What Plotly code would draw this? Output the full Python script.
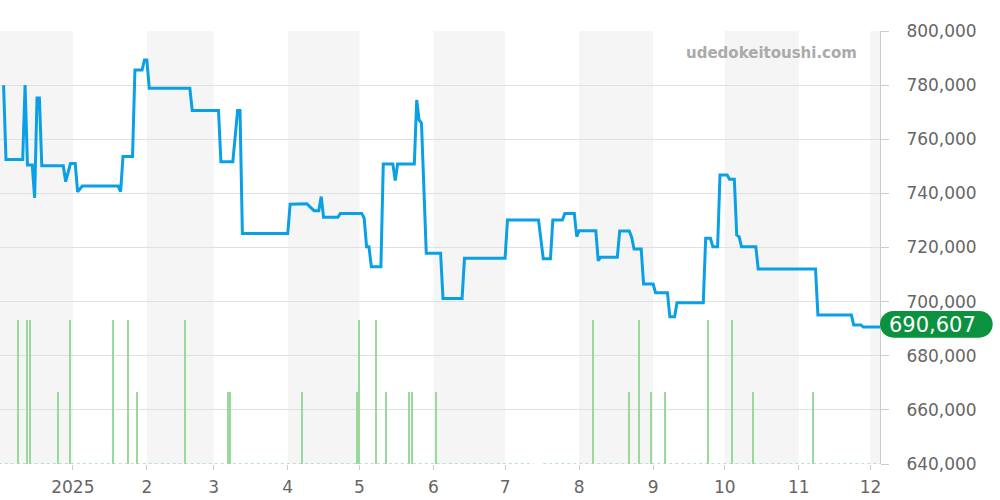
import plotly.graph_objects as go
import pandas as pd

# ---- price line (change points) ----
line_dates = [
    "2024-12-03", "2024-12-04", "2024-12-11", "2024-12-12", "2024-12-13", "2024-12-15",
    "2024-12-16", "2024-12-17", "2024-12-18", "2024-12-19", "2024-12-28", "2024-12-29",
    "2024-12-31", "2025-01-02", "2025-01-03", "2025-01-05", "2025-01-20", "2025-01-21",
    "2025-01-22", "2025-01-26", "2025-01-27", "2025-01-30", "2025-01-31", "2025-02-01",
    "2025-02-02", "2025-02-19", "2025-02-20", "2025-03-03", "2025-03-04", "2025-03-09",
    "2025-03-11", "2025-03-12", "2025-03-13", "2025-04-01", "2025-04-02", "2025-04-09",
    "2025-04-10", "2025-04-12", "2025-04-14", "2025-04-15", "2025-04-16", "2025-04-22",
    "2025-04-23", "2025-05-02", "2025-05-03", "2025-05-04", "2025-05-05", "2025-05-06",
    "2025-05-10", "2025-05-11", "2025-05-15", "2025-05-16", "2025-05-17", "2025-05-24",
    "2025-05-25", "2025-05-26", "2025-05-27", "2025-05-29", "2025-06-04", "2025-06-05",
    "2025-06-13", "2025-06-14", "2025-07-01", "2025-07-02", "2025-07-15", "2025-07-17",
    "2025-07-20", "2025-07-21", "2025-07-25", "2025-07-26", "2025-07-30", "2025-07-31",
    "2025-08-01", "2025-08-08", "2025-08-09", "2025-08-10", "2025-08-17", "2025-08-18",
    "2025-08-22", "2025-08-23", "2025-08-24", "2025-08-27", "2025-08-28", "2025-09-01",
    "2025-09-02", "2025-09-07", "2025-09-08", "2025-09-10", "2025-09-11", "2025-09-22",
    "2025-09-23", "2025-09-25", "2025-09-26", "2025-09-28", "2025-09-29", "2025-10-02",
    "2025-10-03", "2025-10-05", "2025-10-06", "2025-10-07", "2025-10-08", "2025-10-14",
    "2025-10-15", "2025-11-08", "2025-11-09", "2025-11-23", "2025-11-24", "2025-11-27",
    "2025-11-28", "2025-12-06",
]
line_values = [
    780000, 752500, 752500, 780000, 750500, 750500,
    738300, 775200, 775200, 750200, 750200, 744300,
    751000, 751000, 740600, 742700, 742700, 740600,
    753600, 753600, 785600, 785600, 789300, 789300,
    778800, 778800, 770600, 770600, 751700, 751700,
    770600, 770600, 725200, 725200, 736000, 736200,
    735300, 733600, 733600, 738800, 731200, 731200,
    732600, 732600, 730800, 720300, 720300, 712900,
    712900, 750900, 750900, 744700, 750900, 750900,
    774500, 767100, 766000, 717900, 717900, 701200,
    701200, 716000, 716000, 730200, 730200, 715800,
    715800, 730200, 730200, 732600, 732600, 724000,
    726200, 726200, 715100, 716400, 716400, 726100,
    726100, 723800, 719400, 719400, 706500, 706500,
    703300, 703300, 694400, 694400, 699600, 699600,
    723400, 723400, 720300, 720300, 746800, 746800,
    745200, 745200, 724600, 724000, 720300, 720300,
    712100, 712100, 695100, 695100, 691400, 691400,
    690607, 690607,
]
last_price = 690607

# ---- volume bars (secondary axis) ----
bar_dates = [
    "2024-12-09", "2024-12-13", "2024-12-14", "2024-12-31", "2025-01-18", "2025-01-24",
    "2025-02-17", "2025-05-01", "2025-05-08", "2025-08-07", "2025-08-26", "2025-09-24",
    "2025-10-04",
    "2024-12-26", "2025-01-28", "2025-03-07", "2025-03-08", "2025-04-07", "2025-04-30",
    "2025-05-12", "2025-05-22", "2025-05-23", "2025-06-02", "2025-08-22", "2025-08-31",
    "2025-09-06", "2025-10-13", "2025-11-07",
]
bar_values = [2] * 13 + [1] * 15

# zero-volume baseline segments (None = gap in data)
baseline_dates = ["2024-12-01", "2025-07-13", None, "2025-07-17", "2025-12-06"]
baseline_values = [0, 0, None, 0, 0]

# ---- axes ----
month_ticks = ["2025-01-01", "2025-02-01", "2025-03-01", "2025-04-01", "2025-05-01",
               "2025-06-01", "2025-07-01", "2025-08-01", "2025-09-01", "2025-10-01",
               "2025-11-01", "2025-12-01"]
month_labels = ["2025", "2", "3", "4", "5", "6", "7", "8", "9", "10", "11", "12"]
shaded_months = ["2024-12-01", "2025-02-01", "2025-04-01", "2025-06-01",
                 "2025-08-01", "2025-10-01", "2025-12-01"]
x_range = ["2024-12-01 12:00", "2025-12-05 00:00"]
y_range = [640000, 800000]

FONT = "DejaVu Sans"
LINE_BLUE = "#0aa0e6"
BAR_GREEN = "#9bd89d"
LABEL_GREEN = "#0a923e"

fig = go.Figure()

fig.add_trace(go.Bar(
    x=bar_dates, y=bar_values, yaxis="y2",
    width=0.55 * 86400000, marker=dict(color=BAR_GREEN, line=dict(width=0)),
    hoverinfo="skip", showlegend=False,
))
fig.add_trace(go.Scatter(
    x=baseline_dates, y=baseline_values, yaxis="y2", mode="lines",
    line=dict(color="#a8dcaa", width=1.5, dash="dot"),
    hoverinfo="skip", showlegend=False,
))
fig.add_trace(go.Scatter(
    x=line_dates, y=line_values, mode="lines",
    line=dict(color=LINE_BLUE, width=3),
    showlegend=False,
))

shapes = []
for s in shaded_months:
    start = pd.Timestamp(s)
    end = start + pd.offsets.MonthBegin(1)
    shapes.append(dict(type="rect", xref="x", yref="paper",
                       x0=start.strftime("%Y-%m-%d"), x1=end.strftime("%Y-%m-%d"),
                       y0=0, y1=1, fillcolor="#f5f5f5", line=dict(width=0), layer="below"))

# rounded label pill anchored at the last price
r = 13.3
w = 112.7
yb, yt = -10.6, 16.0
yc = (yb + yt) / 2
k = r * 0.5523
pill = (f"M {r},{yb} L {w-r},{yb} C {w-r+k},{yb} {w},{yc-k} {w},{yc} "
        f"C {w},{yc+k} {w-r+k},{yt} {w-r},{yt} L {r},{yt} "
        f"C {r-k},{yt} 0,{yc+k} 0,{yc} C 0,{yc-k} {r-k},{yb} {r},{yb} Z")
shapes.append(dict(type="path", xref="paper", yref="y",
                   xsizemode="pixel", ysizemode="pixel",
                   xanchor=1, yanchor=last_price, path=pill,
                   fillcolor=LABEL_GREEN, line=dict(width=0), layer="above"))

fig.update_layout(
    width=1000, height=500,
    margin=dict(l=0, r=120, t=31, b=36),
    paper_bgcolor="white", plot_bgcolor="white",
    font=dict(family=FONT, color="#666666", size=17),
    shapes=shapes,
    bargap=0,
    xaxis=dict(
        type="date", range=x_range,
        tickvals=month_ticks, ticktext=month_labels,
        showgrid=False, zeroline=False,
        ticks="outside", ticklen=5, tickcolor="#cccccc",
        ticklabelstandoff=3,
        tickfont=dict(size=17, color="#666666"),
        showline=False,
    ),
    yaxis=dict(
        side="right", range=y_range, dtick=20000, tickformat=",",
        showgrid=True, gridcolor="#e0e0e0", gridwidth=1, zeroline=False,
        ticks="outside", ticklen=8, tickcolor="#cccccc",
        showline=True, linecolor="#cccccc", linewidth=1,
        ticklabelstandoff=14,
        tickfont=dict(size=17, color="#666666"),
    ),
    yaxis2=dict(overlaying="y", range=[0, 6], visible=False),
    annotations=[
        dict(text="udedokeitoushi.com", xref="paper", yref="paper",
             x=857 / 880, y=(464 - 52) / 433, xanchor="right", yanchor="middle",
             xshift=2, yshift=-1, showarrow=False,
             font=dict(family=FONT, size=15, color="#aaaaaa", weight="bold")),
        dict(text=f"{last_price:,}", xref="paper", yref="y",
             x=1, y=last_price, xanchor="center", yanchor="middle",
             xshift=52.7, yshift=2, showarrow=False,
             font=dict(family=FONT, size=21, color="white")),
    ],
)

fig.write_html("out.html", config={"displayModeBar": False},
               post_script="document.body.style.margin='0';")
